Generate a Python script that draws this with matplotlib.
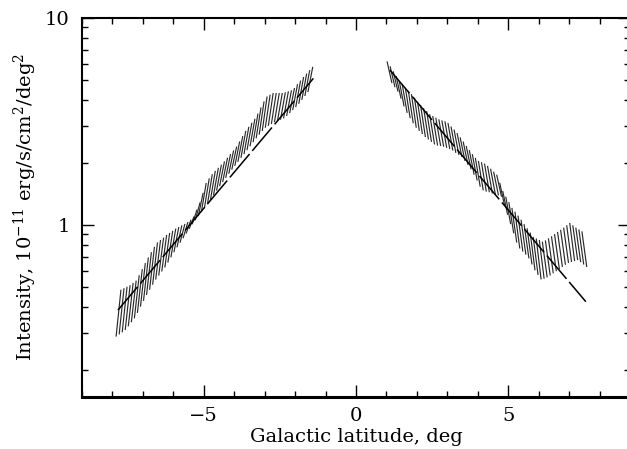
import numpy as np
import matplotlib
matplotlib.use("Agg")
import matplotlib.pyplot as plt
from matplotlib.collections import LineCollection
from matplotlib.ticker import FixedLocator, NullFormatter

plt.rcParams['font.family'] = ['DejaVu Serif']
plt.rcParams['mathtext.fontset'] = 'dejavuserif'
plt.rcParams['lines.scale_dashes'] = False

# ---- data ----
left_lat = np.linspace(-7.8, -1.5, 64)
left_hi = [0.487, 0.495, 0.503, 0.512, 0.525, 0.539, 0.572, 0.612, 0.655, 0.697,
           0.739, 0.784, 0.824, 0.846, 0.869, 0.894, 0.916, 0.937, 0.961, 0.978,
           0.996, 1.012, 1.034, 1.061, 1.100, 1.188, 1.286, 1.431, 1.596, 1.680,
           1.759, 1.827, 1.889, 1.956, 2.029, 2.114, 2.203, 2.293, 2.394, 2.534,
           2.689, 2.849, 2.981, 3.121, 3.258, 3.453, 3.700, 3.955, 4.177, 4.261,
           4.342, 4.342, 4.342, 4.342, 4.377, 4.425, 4.470, 4.591, 4.789, 4.985,
           5.188, 5.388, 5.595, 5.811]
left_lo = [0.289, 0.296, 0.303, 0.311, 0.324, 0.339, 0.354, 0.376, 0.403, 0.430,
           0.459, 0.487, 0.515, 0.545, 0.570, 0.596, 0.623, 0.658, 0.698, 0.739,
           0.780, 0.821, 0.863, 0.910, 0.958, 1.008, 1.055, 1.103, 1.154, 1.206,
           1.260, 1.325, 1.393, 1.466, 1.539, 1.613, 1.689, 1.767, 1.851, 1.932,
           2.018, 2.110, 2.200, 2.300, 2.402, 2.512, 2.624, 2.731, 2.845, 2.951,
           3.014, 3.075, 3.137, 3.183, 3.226, 3.273, 3.362, 3.472, 3.590, 3.712,
           3.851, 4.022, 4.200, 4.385]

right_lat = np.linspace(1.1, 7.5, 65)
right_hi = [6.17, 5.84, 5.53, 5.24, 4.97, 4.76, 4.60, 4.45, 4.29, 4.12,
            3.95, 3.80, 3.67, 3.55, 3.43, 3.36, 3.30, 3.24, 3.20, 3.17,
            3.11, 2.99, 2.89, 2.78, 2.65, 2.53, 2.41, 2.30, 2.20, 2.11,
            2.04, 2.01, 1.98, 1.93, 1.87, 1.81, 1.75, 1.60, 1.46, 1.37,
            1.29, 1.21, 1.16, 1.11, 1.06, 1.01, 0.964, 0.920, 0.876, 0.861,
            0.846, 0.831, 0.842, 0.862, 0.882, 0.904, 0.926, 0.948, 0.971, 0.997,
            1.023, 0.997, 0.971, 0.951, 0.932]
right_lo = [4.85, 4.63, 4.41, 4.08, 3.74, 3.48, 3.28, 3.10, 2.95, 2.85,
            2.75, 2.66, 2.59, 2.52, 2.45, 2.42, 2.41, 2.39, 2.36, 2.33,
            2.29, 2.23, 2.18, 2.13, 2.04, 1.95, 1.86, 1.75, 1.64, 1.53,
            1.47, 1.45, 1.44, 1.42, 1.40, 1.39, 1.37, 1.24, 1.12, 1.01,
            0.912, 0.823, 0.770, 0.744, 0.719, 0.690, 0.645, 0.604, 0.574, 0.546,
            0.550, 0.558, 0.570, 0.584, 0.598, 0.612, 0.627, 0.642, 0.656, 0.663,
            0.670, 0.677, 0.661, 0.644, 0.627]

left_fit_lat = [-7.82, -1.40]
left_fit_val = [0.388, 5.11]
right_fit_lat = [1.11, 7.55]
right_fit_val = [5.61, 0.426]

x_ticks = [-5, 0, 5]
x_tick_labels = ['\u22125', '0', '5']
y_ticks = [1, 10]
y_tick_labels = ['1', '10']

# ---- figure ----
fig = plt.figure(figsize=(6.27, 4.49), dpi=100)
ax = fig.add_axes([82 / 627, 52 / 449, 548 / 627, 379 / 449])
ax.set_yscale('log')
ax.set_xlim(-9, 9)
ax.set_ylim(0.1476, 10)

d = 0.08
segL = [[(x - d, lo), (x + d, hi)] for x, lo, hi in zip(left_lat, left_lo, left_hi)]
segR = [[(x - d, hi), (x + d, lo)] for x, lo, hi in zip(right_lat, right_lo, right_hi)]
ax.add_collection(LineCollection(segL, colors='#2a2a2a', linewidths=0.85))
ax.add_collection(LineCollection(segR, colors='#2a2a2a', linewidths=0.85))

ax.plot(left_fit_lat, left_fit_val, color='black', lw=1.1, dashes=(22, 3))
ax.plot(right_fit_lat, right_fit_val, color='black', lw=1.1, dashes=(22, 3))

ax.xaxis.set_major_locator(FixedLocator(x_ticks))
ax.set_xticklabels(x_tick_labels)
ax.xaxis.set_minor_locator(FixedLocator([v for v in range(-9, 10) if v % 5 != 0]))
ax.yaxis.set_major_locator(FixedLocator(y_ticks))
ax.set_yticklabels(y_tick_labels)
ax.yaxis.set_minor_locator(FixedLocator([0.2, 0.3, 0.4, 0.5, 0.6, 0.7, 0.8, 0.9,
                                         2, 3, 4, 5, 6, 7, 8, 9]))
ax.yaxis.set_minor_formatter(NullFormatter())

ax.tick_params(which='both', direction='in', top=True, right=True, labelsize=14,
               width=1.0, color='black')
ax.tick_params(which='major', length=8.5)
ax.tick_params(which='minor', length=4.3)
ax.tick_params(axis='x', which='major', pad=7)
ax.tick_params(axis='y', which='major', pad=9)

for s in ['left', 'top', 'right']:
    ax.spines[s].set_linewidth(1.5)
ax.spines['bottom'].set_linewidth(2.2)

ax.set_xlabel('Galactic latitude, deg', fontsize=14, labelpad=2)
ax.set_ylabel(r'Intensity, 10$^{-11}$ erg/s/cm$^2$/deg$^2$', fontsize=14, labelpad=4)

fig.savefig('out.png', dpi=100)
